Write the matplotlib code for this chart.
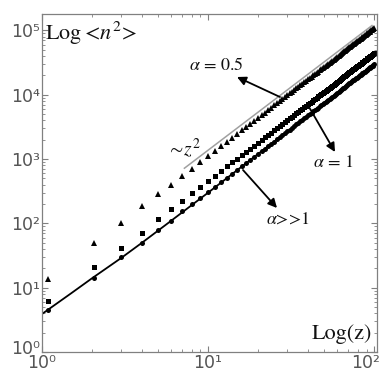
import numpy as np
import matplotlib
matplotlib.use("Agg")
import matplotlib.pyplot as plt
from matplotlib.ticker import FixedLocator, FixedFormatter, NullFormatter
from matplotlib.transforms import ScaledTranslation

plt.rcParams['mathtext.fontset'] = 'stix'

# z positions of the markers (first two sit slightly right of 1 and 2)
z = [1.09, 2.07] + list(range(3, 101))

# alpha >> 1 (circles)
circ = [4.5, 14, 30, 50, 78, 110, 153, 198, 250, 307,
        370, 439, 514, 595, 682, 774, 873, 977, 1088, 1204,
        1326, 1454, 1588, 1728, 1874, 2025, 2183, 2346, 2516, 2691,
        2872, 3059, 3252, 3451, 3656, 3866, 4083, 4305, 4534, 4768,
        5008, 5254, 5506, 5764, 6028, 6297, 6573, 6854, 7142, 7435,
        7734, 8039, 8350, 8667, 8990, 9318, 9653, 9993, 10340, 10692,
        11050, 11414, 11784, 12160, 12542, 12929, 13323, 13722, 14128, 14539,
        14956, 15379, 15808, 16243, 16684, 17130, 17583, 18041, 18506, 18976,
        19452, 19934, 20422, 20916, 21416, 21921, 22433, 22950, 23474, 24003,
        24538, 25079, 25626, 26179, 26738, 27302, 27873, 28449, 29031, 29620]

# alpha = 1 (squares)
sq = [6.3, 21, 42, 72, 115, 165, 219, 295, 363, 458,
      552, 655, 767, 888, 1017, 1155, 1302, 1458, 1623, 1796,
      1978, 2169, 2369, 2578, 2795, 3021, 3256, 3500, 3753, 4014,
      4284, 4563, 4851, 5148, 5453, 5767, 6090, 6422, 6763, 7112,
      7470, 7837, 8213, 8598, 8991, 9393, 9804, 10224, 10653, 11090,
      11536, 11991, 12455, 12928, 13409, 13899, 14398, 14906, 15423, 15948,
      16482, 17025, 17577, 18138, 18707, 19285, 19872, 20468, 21073, 21686,
      22308, 22939, 23579, 24228, 24885, 25551, 26226, 26910, 27603, 28304,
      29014, 29733, 30461, 31198, 31943, 32697, 33460, 34232, 35013, 35802,
      36600, 37407, 38223, 39048, 39881, 40723, 41574, 42434, 43303, 44180]

# alpha = 0.5 (triangles)
tri = [13.5, 49, 103, 183, 282, 400, 547, 711, 897, 1105,
       1334, 1585, 1858, 2152, 2468, 2805, 3164, 3544, 3946, 4370,
       4815, 5282, 5771, 6281, 6813, 7366, 7941, 8537, 9155, 9795,
       10456, 11139, 11844, 12570, 13318, 14087, 14878, 15690, 16524, 17380,
       18257, 19156, 20077, 21019, 21983, 22968, 23975, 25003, 26053, 27125,
       28218, 29333, 30470, 31628, 32808, 34009, 35232, 36476, 37742, 39030,
       40339, 41670, 43023, 44397, 45793, 47210, 48649, 50109, 51591, 53095,
       54620, 56167, 57736, 59326, 60938, 62571, 64226, 65902, 67600, 69320,
       71061, 72824, 74609, 76415, 78243, 80092, 81963, 83855, 85769, 87705,
       89662, 91641, 93642, 95664, 97708, 99773, 101860, 103968, 106098, 108250]

# fitted curve through the circles
fit_z = [1, 1.5, 2, 3, 4, 6, 10, 20, 50, 100]
fit_v = [3.9, 8.2, 14, 29, 50, 110, 300, 1200, 7400, 29600]

# ~ z^2 guide line
guide_z = [7.2, 97]
guide_v = [720, 119000]

xticks = [1, 10, 100]
xlabels = ['10\u2070', '10\u00b9', '10\u00b2']
yticks = [1, 10, 100, 1000, 10000, 100000]
ylabels = ['10\u2070', '10\u00b9', '10\u00b2', '10\u00b3', '10\u2074', '10\u2075']

W = H = 382
fig = plt.figure(figsize=(3.82, 3.82), dpi=100)
ax = fig.add_axes([42 / W, 1 - 352 / H, (377 - 42) / W, (352 - 14) / H])

ax.plot(fit_z, fit_v, color='black', lw=1.3, zorder=2)
ax.plot(guide_z, guide_v, color='#a0a0a0', lw=1.1, zorder=1)
ax.plot(z, tri, ls='none', marker='^', ms=3.8, color='black', mew=0, clip_on=False)
ax.plot(z, sq, ls='none', marker='s', ms=3.6, color='black', mew=0, clip_on=False)
ax.plot(z, circ, ls='none', marker='o', ms=3.6, color='black', mew=0, clip_on=False)

ax.set_xscale('log')
ax.set_yscale('log')
ax.set_xlim(1, 104)
ax.set_ylim(1, 1.8e5)

ax.xaxis.set_major_locator(FixedLocator(xticks))
ax.xaxis.set_major_formatter(FixedFormatter(xlabels))
ax.yaxis.set_major_locator(FixedLocator(yticks))
ax.yaxis.set_major_formatter(FixedFormatter(ylabels))
ax.xaxis.set_minor_formatter(NullFormatter())
ax.yaxis.set_minor_formatter(NullFormatter())

for sp in ax.spines.values():
    sp.set_color('#808080')
    sp.set_linewidth(0.9)
ax.tick_params(which='both', direction='in', top=True, right=True,
               color='#808080', labelcolor='#555555', labelsize=12.5)
ax.tick_params(which='major', length=4, width=0.8, pad=1.5)
ax.tick_params(which='minor', length=2, width=0.6)

# nudge the corner labels so they stay apart and inside the image
xt = ax.xaxis.get_major_ticks()
yt = ax.yaxis.get_major_ticks()
xt[-1].label1.set_transform(xt[-1].label1.get_transform()
                            + ScaledTranslation(-0.09, 0, fig.dpi_scale_trans))
yt[0].label1.set_transform(yt[0].label1.get_transform()
                           + ScaledTranslation(0, 0.05, fig.dpi_scale_trans))


def px(x, y):
    return x / W, 1 - y / H


tkw = dict(family='STIXGeneral', color='#111111')
fig.text(*px(45, 33), r'Log$<\!n^2\!>$', fontsize=16, va='center', ha='left', **tkw)
fig.text(*px(372, 334), 'Log(z)', fontsize=16, va='center', ha='right', **tkw)
fig.text(*px(189, 66), r'$\alpha$ = 0.5', fontsize=13, va='center', ha='left', **tkw)
fig.text(*px(313, 163), r'$\alpha$ = 1', fontsize=13, va='center', ha='left', **tkw)
fig.text(*px(266, 220), r'$\alpha$>>1', fontsize=13, va='center', ha='left', **tkw)
fig.text(*px(167, 148), r'$\sim\!z^2$', fontsize=14, va='center', ha='left', **tkw)

arrows = [((280, 97), (237, 77)), ((309, 107), (335, 152)), ((243, 170), (277, 208))]
for tail, head in arrows:
    ax.annotate('', xy=(head[0], H - head[1]), xytext=(tail[0], H - tail[1]),
                xycoords='figure pixels', textcoords='figure pixels',
                arrowprops=dict(arrowstyle='-|>', color='black', lw=1.3,
                                mutation_scale=13, shrinkA=0, shrinkB=0))

fig.savefig('out.png', dpi=100)
